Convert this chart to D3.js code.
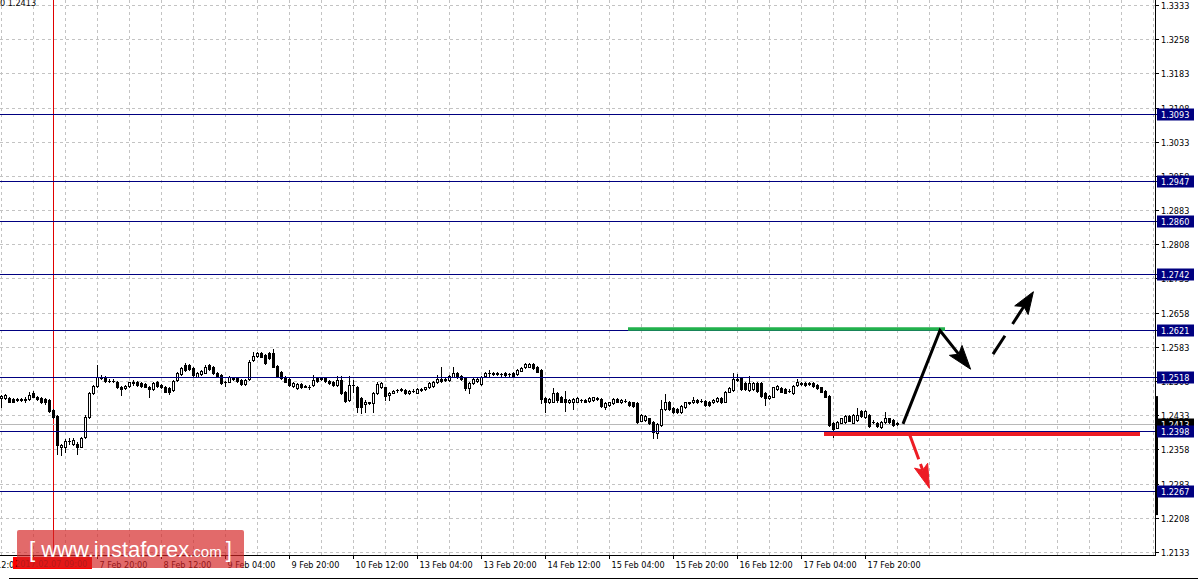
<!DOCTYPE html>
<html><head><meta charset="utf-8">
<script src="https://cdn.jsdelivr.net/npm/d3@7"></script>
<style>html,body{margin:0;padding:0;background:#fff;overflow:hidden}</style>
</head><body><svg id="c" width="1198" height="581"></svg>
<script>
// ---------------- DATA ----------------
const opens=[
1.2470,1.2470,1.2470,1.2468,1.2468,1.2467,1.2468,1.2468,1.2481,1.2474,
1.2470,1.2468,1.2466,1.2444,1.2431,1.2363,1.2364,1.2377,1.2370,1.2371,
1.2364,1.2385,1.2430,1.2481,1.2497,1.2518,1.2518,1.2509,1.2509,1.2507,
1.2496,1.2492,1.2497,1.2505,1.2507,1.2503,1.2501,1.2496,1.2490,1.2507,
1.2499,1.2496,1.2492,1.2488,1.2510,1.2523,1.2543,1.2543,1.2536,1.2518,
1.2523,1.2526,1.2543,1.2539,1.2525,1.2521,1.2507,1.2507,1.2514,1.2514,
1.2510,1.2501,1.2512,1.2554,1.2563,1.2569,1.2565,1.2569,1.2569,1.2541,
1.2528,1.2518,1.2512,1.2497,1.2492,
1.2501,1.2497,1.2496,1.2499,1.2514,1.2514,1.2514,1.2509,1.2507,1.2499,
1.2510,1.2485,1.2466,1.2499,1.2496,1.2470,1.2458,1.2461,1.2459,1.2481,
1.2494,1.2494,1.2477,1.2482,1.2488,1.2490,1.2488,1.2481,1.2487,1.2482,
1.2490,1.2490,1.2494,1.2497,1.2506,1.2512,1.2512,1.2510,1.2518,1.2526,
1.2519,1.2514,1.2492,1.2503,1.2509,1.2501,1.2519,1.2526,1.2525,1.2524,
1.2523,1.2525,1.2523,1.2525,1.2523,1.2531,1.2538,1.2539,1.2545,1.2539,
1.2532,1.2470,1.2461,1.2463,1.2481,1.2474,1.2468,1.2461,1.2463,1.2463,
1.2466,1.2466,1.2465,1.2466,1.2470,
1.2468,1.2452,1.2455,1.2459,1.2468,1.2461,1.2465,1.2463,1.2461,1.2459,
1.2421,1.2422,1.2426,1.2419,1.2393,1.2412,1.2446,1.2463,1.2450,1.2446,
1.2441,1.2452,1.2461,1.2461,1.2466,1.2464,1.2465,1.2463,1.2461,1.2465,
1.2470,1.2463,1.2485,1.2488,1.2512,1.2514,1.2503,1.2488,1.2490,1.2503,
1.2503,1.2481,1.2470,1.2474,1.2490,1.2492,1.2490,1.2487,1.2481,1.2499,
1.2503,1.2504,1.2502,1.2503,1.2499,1.2494,1.2487,1.2475,1.2417,1.2406,
1.2417,1.2419,1.2431,1.2417,1.2422,1.2443,1.2430,1.2433,1.2419,1.2417,
1.2408,1.2419,1.2426,1.2422,1.2415];
const highs=[
1.2478,1.2480,1.2472,1.2470,1.2471,1.2471,1.2474,1.2485,1.2487,1.2476,
1.2472,1.2470,1.2469,1.2446,1.2433,1.2371,1.2380,1.2382,1.2382,1.2374,
1.2385,1.2433,1.2485,1.2500,1.2543,1.2521,1.2520,1.2512,1.2512,1.2509,
1.2498,1.2499,1.2507,1.2510,1.2509,1.2505,1.2503,1.2498,1.2507,1.2509,
1.2501,1.2498,1.2494,1.2511,1.2527,1.2539,1.2547,1.2545,1.2538,1.2527,
1.2533,1.2543,1.2545,1.2542,1.2527,1.2523,1.2509,1.2520,1.2516,1.2516,
1.2512,1.2512,1.2554,1.2572,1.2572,1.2572,1.2567,1.2571,1.2578,1.2543,
1.2531,1.2520,1.2514,1.2505,1.2504,
1.2503,1.2500,1.2499,1.2521,1.2516,1.2517,1.2516,1.2511,1.2509,1.2519,
1.2519,1.2487,1.2519,1.2510,1.2498,1.2472,1.2466,1.2463,1.2485,1.2507,
1.2507,1.2496,1.2485,1.2489,1.2491,1.2493,1.2490,1.2489,1.2490,1.2492,
1.2493,1.2496,1.2505,1.2509,1.2521,1.2539,1.2515,1.2521,1.2539,1.2528,
1.2521,1.2516,1.2505,1.2514,1.2514,1.2520,1.2528,1.2532,1.2528,1.2528,
1.2526,1.2527,1.2526,1.2527,1.2534,1.2538,1.2547,1.2547,1.2547,1.2542,
1.2534,1.2472,1.2470,1.2492,1.2483,1.2476,1.2487,1.2469,1.2470,1.2472,
1.2469,1.2469,1.2472,1.2474,1.2473,
1.2470,1.2461,1.2463,1.2470,1.2470,1.2469,1.2468,1.2465,1.2463,1.2461,
1.2436,1.2433,1.2428,1.2421,1.2416,1.2466,1.2480,1.2465,1.2452,1.2448,
1.2455,1.2463,1.2463,1.2474,1.2469,1.2468,1.2467,1.2465,1.2469,1.2474,
1.2472,1.2487,1.2494,1.2525,1.2523,1.2518,1.2505,1.2519,1.2505,1.2505,
1.2505,1.2483,1.2477,1.2496,1.2499,1.2494,1.2492,1.2490,1.2499,1.2512,
1.2506,1.2507,1.2506,1.2505,1.2501,1.2496,1.2489,1.2477,1.2419,1.2421,
1.2428,1.2433,1.2433,1.2436,1.2450,1.2445,1.2445,1.2436,1.2422,1.2419,
1.2421,1.2441,1.2428,1.2425,1.2418];
const lows=[
1.2452,1.2468,1.2461,1.2461,1.2465,1.2464,1.2461,1.2466,1.2472,1.2466,
1.2459,1.2458,1.2441,1.2428,1.2349,1.2346,1.2353,1.2371,1.2368,1.2348,
1.2363,1.2382,1.2428,1.2480,1.2496,1.2513,1.2507,1.2506,1.2506,1.2493,
1.2477,1.2490,1.2496,1.2499,1.2498,1.2496,1.2494,1.2474,1.2488,1.2496,
1.2493,1.2483,1.2480,1.2487,1.2509,1.2522,1.2531,1.2532,1.2519,1.2516,
1.2522,1.2525,1.2532,1.2523,1.2516,1.2501,1.2497,1.2505,1.2511,1.2507,
1.2499,1.2500,1.2510,1.2553,1.2561,1.2560,1.2545,1.2556,1.2538,1.2516,
1.2512,1.2505,1.2498,1.2496,1.2490,
1.2493,1.2494,1.2490,1.2498,1.2507,1.2511,1.2507,1.2501,1.2498,1.2498,
1.2480,1.2463,1.2465,1.2485,1.2441,1.2439,1.2441,1.2457,1.2441,1.2480,
1.2493,1.2466,1.2466,1.2481,1.2485,1.2487,1.2480,1.2480,1.2484,1.2481,
1.2487,1.2488,1.2493,1.2496,1.2504,1.2507,1.2509,1.2509,1.2516,1.2515,
1.2510,1.2488,1.2481,1.2501,1.2507,1.2500,1.2518,1.2519,1.2522,1.2522,
1.2520,1.2520,1.2520,1.2518,1.2522,1.2529,1.2537,1.2538,1.2534,1.2527,
1.2459,1.2441,1.2459,1.2461,1.2463,1.2461,1.2443,1.2459,1.2446,1.2461,
1.2463,1.2461,1.2463,1.2465,1.2467,
1.2452,1.2446,1.2454,1.2458,1.2461,1.2459,1.2462,1.2454,1.2452,1.2417,
1.2420,1.2421,1.2414,1.2382,1.2384,1.2410,1.2444,1.2444,1.2439,1.2439,
1.2439,1.2450,1.2458,1.2459,1.2459,1.2462,1.2454,1.2454,1.2459,1.2463,
1.2459,1.2461,1.2483,1.2487,1.2509,1.2488,1.2488,1.2487,1.2488,1.2485,
1.2474,1.2455,1.2469,1.2472,1.2488,1.2483,1.2481,1.2484,1.2480,1.2498,
1.2500,1.2498,1.2500,1.2496,1.2490,1.2483,1.2472,1.2410,1.2386,1.2405,
1.2415,1.2417,1.2420,1.2415,1.2421,1.2430,1.2428,1.2408,1.2415,1.2408,
1.2406,1.2417,1.2417,1.2410,1.2412];
const closes=[
1.2475,1.2477,1.2463,1.2463,1.2467,1.2468,1.2467,1.2477,1.2474,1.2468,
1.2461,1.2461,1.2442,1.2430,1.2368,1.2368,1.2377,1.2376,1.2379,1.2364,
1.2382,1.2430,1.2482,1.2497,1.2518,1.2515,1.2509,1.2508,1.2508,1.2494,
1.2490,1.2497,1.2505,1.2504,1.2499,1.2497,1.2496,1.2490,1.2504,1.2498,
1.2494,1.2485,1.2485,1.2509,1.2525,1.2536,1.2532,1.2534,1.2521,1.2525,
1.2531,1.2539,1.2534,1.2525,1.2518,1.2503,1.2506,1.2518,1.2513,1.2509,
1.2501,1.2510,1.2550,1.2563,1.2569,1.2561,1.2547,1.2558,1.2539,1.2518,
1.2514,1.2507,1.2499,1.2503,1.2501,
1.2494,1.2496,1.2495,1.2510,1.2509,1.2513,1.2509,1.2503,1.2499,1.2510,
1.2481,1.2465,1.2499,1.2499,1.2452,1.2452,1.2463,1.2460,1.2482,1.2501,
1.2503,1.2476,1.2482,1.2487,1.2488,1.2489,1.2481,1.2487,1.2486,1.2490,
1.2489,1.2494,1.2503,1.2507,1.2512,1.2509,1.2511,1.2519,1.2526,1.2516,
1.2512,1.2492,1.2503,1.2512,1.2512,1.2518,1.2526,1.2526,1.2524,1.2525,
1.2523,1.2521,1.2523,1.2519,1.2532,1.2536,1.2545,1.2545,1.2536,1.2528,
1.2468,1.2463,1.2468,1.2481,1.2466,1.2463,1.2461,1.2466,1.2468,1.2470,
1.2466,1.2463,1.2470,1.2472,1.2469,
1.2453,1.2459,1.2461,1.2468,1.2463,1.2466,1.2464,1.2455,1.2453,1.2419,
1.2433,1.2431,1.2415,1.2397,1.2414,1.2446,1.2463,1.2446,1.2441,1.2441,
1.2453,1.2461,1.2460,1.2466,1.2461,1.2465,1.2455,1.2455,1.2466,1.2471,
1.2461,1.2485,1.2492,1.2512,1.2511,1.2490,1.2490,1.2503,1.2503,1.2487,
1.2475,1.2470,1.2475,1.2494,1.2497,1.2485,1.2482,1.2486,1.2497,1.2507,
1.2502,1.2499,1.2503,1.2497,1.2492,1.2485,1.2474,1.2412,1.2402,1.2419,
1.2426,1.2431,1.2421,1.2433,1.2433,1.2431,1.2443,1.2409,1.2418,1.2409,
1.2419,1.2428,1.2419,1.2412,1.2414];

const timeTickIndex=[-8,8,24,40,56,72,88,104,120,136,152,168,184,200,216];
const timeTickLabels=["6 Feb 12:00","7 Feb 04:00","7 Feb 20:00","8 Feb 12:00","9 Feb 04:00","9 Feb 20:00","10 Feb 12:00","13 Feb 04:00","13 Feb 20:00","14 Feb 12:00","15 Feb 04:00","15 Feb 20:00","16 Feb 12:00","17 Feb 04:00","17 Feb 20:00"];
const priceTicks=[1.3333,1.3258,1.3183,1.3108,1.3033,1.2958,1.2883,1.2808,1.2733,1.2658,1.2583,1.2508,1.2433,1.2358,1.2283,1.2208,1.2133];
const levelPrices=[1.3093,1.2947,1.2860,1.2742,1.2621,1.2518,1.2398,1.2267];
const bidPrice=1.2413;
const crosshairIndex=13;
const crosshairLabel="2017.02.07 09:00";
const rangeBar=[1.2214,1.2475];
// annotations: [index, price]
const resistanceLine=[[156.75,1.2622],[236,1.2622]];
const supportLine=[[205.75,1.2392],[284.75,1.2392]];
const arrowUpDown=[[225.5,1.2414],[234.75,1.2619],[242.4,1.2534]];
const arrowBreakUp=[[248,1.2567],[258.1,1.2704]];
const arrowBreakDown=[[227.1,1.2392],[232.1,1.2273]];

// ---------------- CHART ----------------
const svg=d3.select("#c");
const W=1198,H=581,PR=1155.5,PB=555.5;
const x=d3.scaleLinear().domain([0,288]).range([1,1153]);
const y=d3.scaleLinear().domain([1.2133,1.3333]).range([552,5]);
const FONT="'DejaVu Sans Condensed','DejaVu Sans',sans-serif";

svg.append("rect").attr("width",W).attr("height",H).attr("fill","#fff");

const plot=svg.append("g");
plot.append("defs").append("clipPath").attr("id","pc").append("rect").attr("x",0).attr("y",0).attr("width",PR).attr("height",PB);

// grid
const grid=plot.append("g").attr("stroke","#c3c3c3").attr("stroke-dasharray","3,3").attr("shape-rendering","crispEdges");
d3.range(0,289,8).forEach(i=>{
  const gx=Math.round(x(i))+0.5;
  grid.append("line").attr("x1",gx).attr("x2",gx).attr("y1",0).attr("y2",PB);
});
priceTicks.forEach(p=>{
  const gy=Math.round(y(p))+0.5;
  grid.append("line").attr("x1",0).attr("x2",PR).attr("y1",gy).attr("y2",gy);
});

// crosshair vertical
plot.append("line").attr("x1",Math.round(x(crosshairIndex))+0.5).attr("x2",Math.round(x(crosshairIndex))+0.5)
  .attr("y1",0).attr("y2",PB).attr("stroke","#e00000").attr("shape-rendering","crispEdges");

// bid line
plot.append("line").attr("x1",0).attr("x2",PR).attr("y1",Math.round(y(bidPrice))+0.5).attr("y2",Math.round(y(bidPrice))+0.5)
  .attr("stroke","#b8b8b8").attr("shape-rendering","crispEdges");

// candles
const cg=plot.append("g").attr("shape-rendering","crispEdges");
opens.forEach((o,i)=>{
  const c=closes[i],h=highs[i],l=lows[i];
  const cx=Math.round(x(i));
  cg.append("line").attr("x1",cx+0.5).attr("x2",cx+0.5).attr("y1",Math.round(y(h))).attr("y2",Math.round(y(l))+1).attr("stroke","#000");
  const top=Math.round(y(Math.max(o,c))),bot=Math.round(y(Math.min(o,c)));
  if(bot-top<1){
    cg.append("line").attr("x1",cx-1).attr("x2",cx+2).attr("y1",top+0.5).attr("y2",top+0.5).attr("stroke","#000");
  } else if(c>o){
    cg.append("rect").attr("x",cx-0.5).attr("y",top+0.5).attr("width",2).attr("height",bot-top).attr("fill","#fff").attr("stroke","#000");
  } else {
    cg.append("rect").attr("x",cx-1).attr("y",top).attr("width",3).attr("height",bot-top+1).attr("fill","#000");
  }
});

// level lines
levelPrices.forEach(p=>{
  const ly=Math.round(y(p))+0.5;
  plot.append("line").attr("x1",0).attr("x2",1158).attr("y1",ly).attr("y2",ly).attr("stroke","#000080").attr("shape-rendering","crispEdges");
});

// annotations
const ann=plot.append("g").attr("clip-path","url(#pc)");
const P=d=>[x(d[0]),y(d[1])];
ann.append("line").attr("x1",x(resistanceLine[0][0])).attr("x2",x(resistanceLine[1][0]))
  .attr("y1",y(resistanceLine[0][1])).attr("y2",y(resistanceLine[1][1])).attr("stroke","#22b14c").attr("stroke-width",3.5);
ann.append("line").attr("x1",x(supportLine[0][0])).attr("x2",x(supportLine[1][0]))
  .attr("y1",y(supportLine[0][1])).attr("y2",y(supportLine[1][1])).attr("stroke","#ed1c24").attr("stroke-width",4);

function arrow(pts,color,w,dash,hl,hw){
  const px=pts.map(P);
  const a=px[px.length-2],b=px[px.length-1];
  const dx=b[0]-a[0],dy=b[1]-a[1],L=Math.hypot(dx,dy),ux=dx/L,uy=dy/L,nx=-uy,ny=ux;
  const base=[b[0]-ux*hl,b[1]-uy*hl];
  const notch=[b[0]-ux*hl*0.8,b[1]-uy*hl*0.8];
  const shaft=px.slice(0,-1).concat([notch]);
  const pth=ann.append("path").attr("d",d3.line()(shaft)).attr("fill","none").attr("stroke",color)
    .attr("stroke-width",w).attr("stroke-linejoin","miter");
  if(dash) pth.attr("stroke-dasharray",dash);
  ann.append("path").attr("d",d3.line()([b,[base[0]+nx*hw/2,base[1]+ny*hw/2],notch,[base[0]-nx*hw/2,base[1]-ny*hw/2]])+"Z")
    .attr("fill",color).attr("stroke",color).attr("stroke-width",1);
}
arrow(arrowUpDown,"#000",3,null,24,16);
arrow(arrowBreakUp,"#000",3,"22,14",22,16);
arrow(arrowBreakDown,"#ed1c24",3,"27,5",24,14);

// axes
const ax=svg.append("g").attr("shape-rendering","crispEdges");
ax.append("line").attr("x1",PR).attr("x2",PR).attr("y1",0).attr("y2",PB).attr("stroke","#000");
ax.append("line").attr("x1",0).attr("x2",PR).attr("y1",PB).attr("y2",PB).attr("stroke","#000");
ax.append("line").attr("x1",9).attr("x2",W).attr("y1",578.5).attr("y2",578.5).attr("stroke","#000");

const yt=svg.append("g").attr("font-family",FONT).attr("font-size","9px").attr("fill","#000");
priceTicks.forEach(p=>{
  const ty=Math.round(y(p))+0.5;
  ax.append("line").attr("x1",PR).attr("x2",1159).attr("y1",ty).attr("y2",ty).attr("stroke","#000");
  yt.append("text").attr("x",1161).attr("y",ty+3.5).text(d3.format(".4f")(p));
});
timeTickIndex.forEach((ti,k)=>{
  const tx=Math.round(x(ti))+0.5;
  ax.append("line").attr("x1",tx).attr("x2",tx).attr("y1",PB).attr("y2",559).attr("stroke","#000");
  yt.append("text").attr("x",tx+2).attr("y",567.5).text(timeTickLabels[k]);
});

// range bar on axis
svg.append("rect").attr("x",1155).attr("y",y(rangeBar[1])).attr("width",3).attr("height",y(rangeBar[0])-y(rangeBar[1])).attr("fill","#000");

// bid label
const by=Math.round(y(bidPrice))+0.5;
svg.append("rect").attr("x",1157).attr("y",by-6).attr("width",37).attr("height",12).attr("fill","#000");
svg.append("text").attr("x",1161).attr("y",by+3.5).attr("font-family",FONT).attr("font-size","9px").attr("fill","#fff").text(d3.format(".4f")(bidPrice));

// level labels
levelPrices.forEach(p=>{
  const ly=Math.round(y(p))+0.5;
  svg.append("rect").attr("x",1157).attr("y",ly-6).attr("width",37).attr("height",12).attr("fill","#000080");
  svg.append("text").attr("x",1161).attr("y",ly+3.5).attr("font-family",FONT).attr("font-size","9px").attr("fill","#fff").text(d3.format(".4f")(p));
});

// top-left text
svg.append("text").attr("x",0).attr("y",6).attr("font-family",FONT).attr("font-size","9px").attr("fill","#000").text("0 "+d3.format(".4f")(bidPrice));

// crosshair time label
const chx=Math.round(x(crosshairIndex));
svg.append("rect").attr("x",chx-40).attr("y",557).attr("width",79).attr("height",12).attr("fill","#ff0000");
svg.append("text").attr("x",chx-38).attr("y",567).attr("font-family",FONT).attr("font-size","9px").attr("fill","#7a0000").text(crosshairLabel);

// watermark
const wm=svg.append("g");
wm.append("rect").attr("x",17).attr("y",530).attr("width",227).attr("height",38).attr("rx",2).attr("fill","rgb(212,36,36)").attr("opacity",0.68);
const wt=wm.append("text").attr("x",29).attr("y",557).attr("font-family","'Liberation Sans',Arial,sans-serif").attr("fill","#fff");
wt.append("tspan").attr("font-size","22px").text("[ www.instaforex");
wt.append("tspan").attr("font-size","15px").text(".com");
wt.append("tspan").attr("font-size","22px").attr("dx",4).text("]");
</script></body></html>
